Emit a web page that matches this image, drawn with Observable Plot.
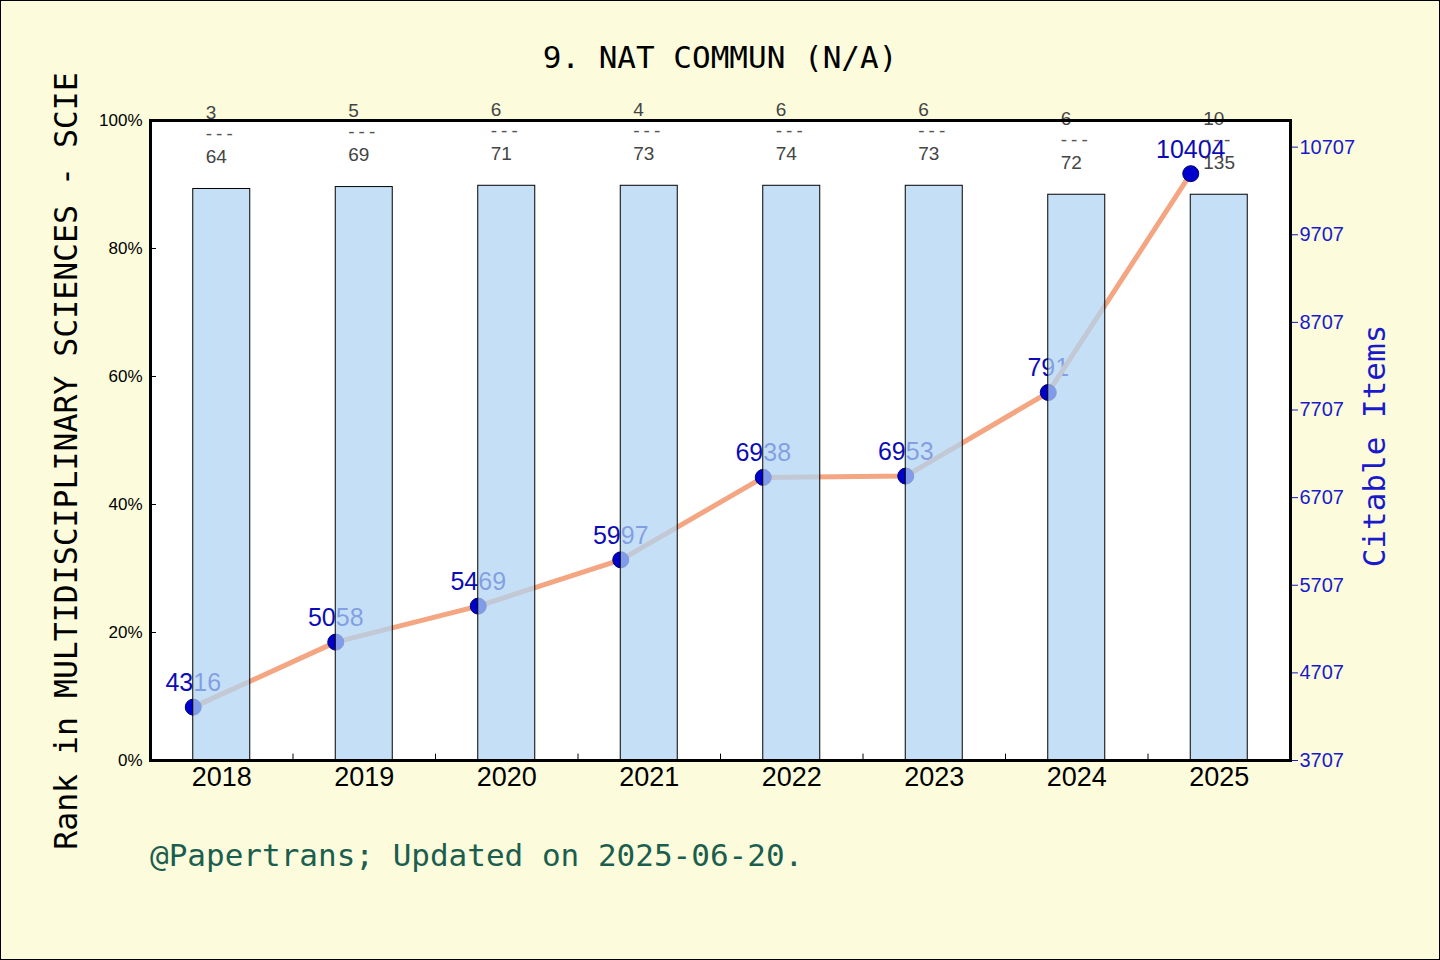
<!DOCTYPE html>
<html>
<head>
<meta charset="utf-8">
<script src="https://cdn.jsdelivr.net/npm/d3@7"></script>
<script src="https://cdn.jsdelivr.net/npm/@observablehq/plot@0.6"></script>
<style>
html, body { margin: 0; padding: 0; background: #fcfcdc; }
#wrap { position: relative; width: 1440px; height: 960px; background: #fcfcdc; overflow: hidden; }
#wrap::after { content: ""; position: absolute; inset: 0; border: 1px solid #000; pointer-events: none; }
.layer { position: absolute; left: 0; top: 0; }
.mono { font-family: "DejaVu Sans Mono", monospace; font-size: 31px; white-space: nowrap; line-height: 1; position: absolute; }
#title { left: 720px; top: 57px; transform: translate(-50%, -50%); color: #000; }
#ylab { left: 67px; top: 461px; transform: translate(-50%, -50%) rotate(-90deg); color: #000; font-size: 31.5px; }
#y2lab { left: 1374px; top: 446px; transform: translate(-50%, -50%) rotate(-90deg); color: #1a1acc; }
#foot { left: 150px; top: 855px; transform: translateY(-50%); color: #1b5e4e; }
</style>
</head>
<body>
<div id="wrap">
  <div id="lineLayer" class="layer"></div>
  <div id="barLayer" class="layer"></div>
  <div id="title" class="mono">9. NAT COMMUN (N/A)</div>
  <div id="ylab" class="mono">Rank in MULTIDISCIPLINARY SCIENCES - SCIE</div>
  <div id="y2lab" class="mono">Citable Items</div>
  <div id="foot" class="mono">@Papertrans; Updated on 2025-06-20.</div>
</div>
<script>
const years = ["2018", "2019", "2020", "2021", "2022", "2023", "2024", "2025"];
const barPct = [89.3, 89.6, 89.8, 89.8, 89.8, 89.8, 88.4, 88.4];
const ranks = [3, 5, 6, 4, 6, 6, 6, 10];
const totals = [64, 69, 71, 73, 74, 73, 72, 135];
const citable = [4316, 5058, 5469, 5997, 6938, 6953, 7907, 10404];
const citableLabels = ["4316", "5058", "5469", "5997", "6938", "6953", "791", "10404"];
const pctTicks = [0, 20, 40, 60, 80, 100];
const citableTicks = [3707, 4707, 5707, 6707, 7707, 8707, 9707, 10707];
const citableDomain = [3707, 11011];

const W = 1440, H = 960;
const M = {top: 120, bottom: 200, left: 150, right: 150};
const padInner = 0.6, padOuter = 0.3;
const sans = "Liberation Sans, Arial, sans-serif";

const band = d3.scaleBand().domain(years).range([M.left, W - M.right]).paddingInner(padInner).paddingOuter(padOuter);
const bw = band.bandwidth();
const step = band.step();

const barData = years.map((y, i) => ({year: y, pct: barPct[i], rank: ranks[i], total: totals[i]}));
const lineData = years.map((y, i) => ({year: y, items: citable[i], label: citableLabels[i]}));

const common = {
  width: W, height: H,
  marginTop: M.top, marginBottom: M.bottom, marginLeft: M.left, marginRight: M.right,
  style: {background: "transparent", fontFamily: sans, overflow: "visible"}
};
const xScale = {type: "band", domain: years, paddingInner: padInner, paddingOuter: padOuter, round: false};

// Bottom layer: citable items line
const linePlot = Plot.plot({
  ...common,
  x: {...xScale, axis: null},
  y: {domain: citableDomain},
  marks: [
    Plot.frame({fill: "white", stroke: null}),
    Plot.text(lineData, {x: "year", y: "items", text: "label", dx: -bw / 2, dy: -24,
      fill: "#0c0cb4", fontSize: 25, fontFamily: sans}),
    Plot.line(lineData, {x: "year", y: "items", dx: -bw / 2, stroke: "#f4a582", strokeWidth: 5}),
    Plot.dot(lineData, {x: "year", y: "items", dx: -bw / 2, r: 8, fill: "#0000cd", stroke: "#000070", strokeWidth: 1}),
    Plot.axisY(citableTicks, {anchor: "right", tickSize: 7, tickPadding: 2, fontSize: 20,
      color: "#1a1acc", label: null, tickFormat: d => String(d)})
  ]
});
document.getElementById("lineLayer").appendChild(linePlot);

// Top layer: rank bars
const barPlot = Plot.plot({
  ...common,
  x: xScale,
  y: {domain: [0, 100]},
  marks: [
    Plot.barY(barData, {x: "year", y: "pct", fill: "rgb(176,213,243)", fillOpacity: 0.73,
      stroke: "#000", strokeWidth: 1}),
    Plot.text(barData, {x: "year", y: "pct", text: d => String(d.rank),
      dx: -16, dy: -76, textAnchor: "start", fontSize: 19, fill: "#444", fontFamily: sans}),
    Plot.text(barData, {x: "year", y: "pct", text: () => "---",
      dx: -16, dy: -55, textAnchor: "start", fontSize: 19, fill: "#555", fontFamily: sans}),
    Plot.text(barData, {x: "year", y: "pct", text: d => String(d.total),
      dx: -16, dy: -32, textAnchor: "start", fontSize: 19, fill: "#444", fontFamily: sans}),
    Plot.ruleX(years.slice(0, -1), {x: d => d, y1: 0, y2: 1, dx: step / 2, stroke: "#000", strokeWidth: 1}),
    Plot.ruleY(pctTicks, {y: d => d, insetRight: W - M.left - M.right - 6, stroke: "#000", strokeWidth: 1}),
    Plot.frame({stroke: "#000", strokeWidth: 3}),
    Plot.axisY(pctTicks, {anchor: "left", tickSize: 0, tickPadding: 8, fontSize: 17,
      tickFormat: d => d + "%", label: null, fill: "#000"}),
    Plot.axisX({tickSize: 0, tickPadding: 6, fontSize: 27, label: null, fill: "#000"})
  ]
});
// widen the rank separator dashes
d3.select(barPlot).selectAll("text").filter(function () { return this.textContent === "---"; })
  .style("letter-spacing", "4px");
document.getElementById("barLayer").appendChild(barPlot);
</script>
</body>
</html>
